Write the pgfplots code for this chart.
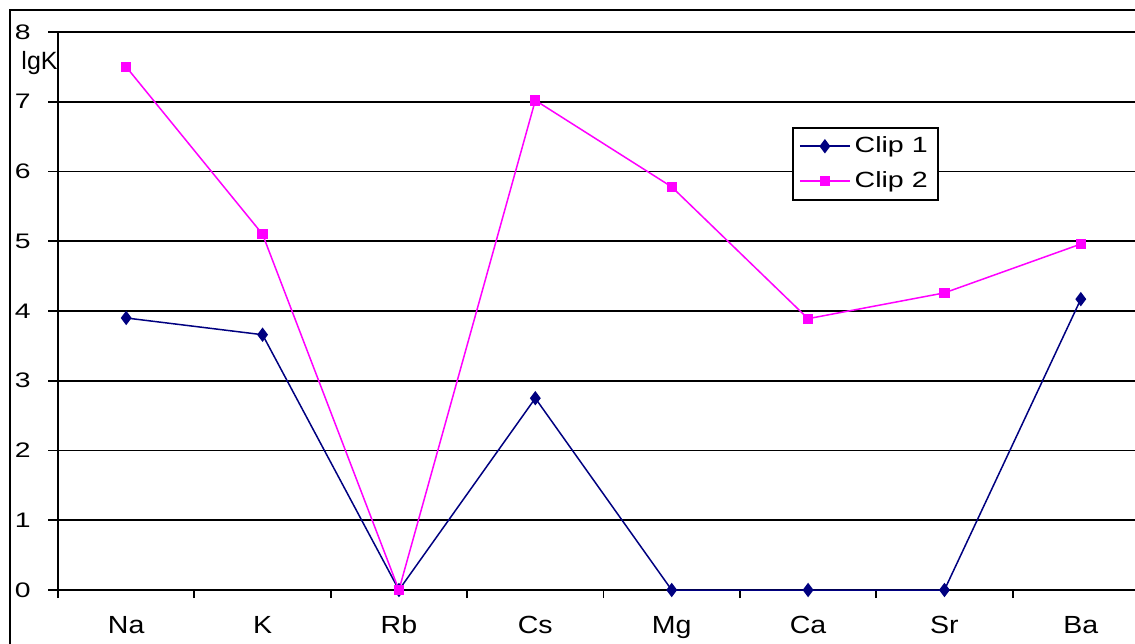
\documentclass[border=0pt]{standalone}
\usepackage{fontspec}
\setmainfont{Liberation Sans}
\usepackage{pgfplots}
\pgfplotsset{compat=1.18}
\definecolor{clipone}{RGB}{0,0,128}
\definecolor{cliptwo}{RGB}{255,0,255}
% the source text is set a little wide
\newcommand{\wide}[2]{\scalebox{#1}[1]{#2}}

\begin{document}
\begin{tikzpicture}
\path[use as bounding box] (0,0) rectangle (567.5pt,321.5pt);
\draw[line width=1pt] (5pt,-5pt) -- (5pt,316.5pt) -- (580pt,316.5pt);
\begin{axis}[
  at={(29pt,26.5pt)}, anchor=south west,
  width=545.5pt, height=279pt, scale only axis,
  xmin=-0.5, xmax=7.5, ymin=0, ymax=8,
  clip=false,
  xtick={0,...,7},
  xticklabels={\wide{1.15}{Na},\wide{1.15}{K},\wide{1.15}{Rb},\wide{1.15}{Cs},\wide{1.15}{Mg},\wide{1.15}{Ca},\wide{1.15}{Sr},\wide{1.15}{Ba}},
  minor xtick={-0.5,0.5,...,7.5},
  ytick={0,...,8},
  yticklabel={\wide{1.35}{\pgfmathprintnumber{\tick}}},
  axis x line=bottom, axis y line=left,
  axis line style={-, line width=0.9pt},
  ymajorgrids, major grid style={black, line width=0.9pt},
  tick align=outside,
  major tick length=5pt, minor tick length=4pt,
  major x tick style={draw=none},
  minor x tick style={black, line width=0.9pt},
  ytick style={black, line width=0.9pt},
  /pgf/number format/assume math mode=true,
  yticklabel style={anchor=east, inner sep=0pt, xshift=-8.5pt, font=\fontsize{10.5}{12}\selectfont},
  xticklabel style={anchor=base, inner sep=0pt, yshift=-16.5pt, font=\fontsize{12.4}{14}\selectfont},
  legend style={at={(0.673,0.830)}, anchor=north west, draw=black, line width=0.9pt,
    fill=white, font=\fontsize{11}{13}\selectfont, inner xsep=3pt, inner ysep=2.5pt,
    row sep=4pt},
  legend cell align=left,
  legend image code/.code={\draw[mark repeat=2,mark phase=2] plot coordinates {(0pt,0pt) (12.5pt,0pt) (25pt,0pt)};},
]
\addplot[clipone, line width=0.75pt, mark=diamond*, mark size=3pt] coordinates {
  (0,3.90) (1,3.66) (2,0) (3,2.75) (4,0) (5,0) (6,0) (7,4.17)
};
\addlegendentry{\wide{1.3}{Clip 1}}
\addplot[cliptwo, line width=0.75pt, mark=square*, mark size=2.2pt] coordinates {
  (0,7.50) (1,5.10) (2,0) (3,7.02) (4,5.78) (5,3.89) (6,4.26) (7,4.96)
};
\addlegendentry{\wide{1.3}{Clip 2}}
\node[anchor=east, inner sep=0pt, font=\fontsize{12.5}{14}\selectfont] at (rel axis cs:0,0.944) {lgK};
\end{axis}
\end{tikzpicture}
\end{document}
